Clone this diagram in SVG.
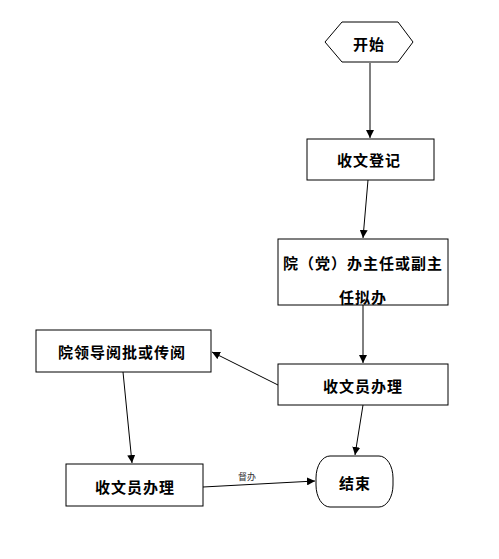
<svg xmlns="http://www.w3.org/2000/svg" width="499" height="559" viewBox="0 0 499 559">
<style>
.node{fill:#fff;stroke:#000;stroke-width:1}
.t{font-family:"Noto Sans CJK SC","Noto Sans",sans-serif;font-size:15px;font-weight:bold;fill:#000;text-anchor:middle;dominant-baseline:central;letter-spacing:1px}
.c{stroke:#000;stroke-width:1;fill:none;marker-end:url(#arr)}
.lbl{font-family:"Noto Sans CJK SC","Noto Sans",sans-serif;font-size:9px;fill:#333;text-anchor:middle}
</style>
<defs>
<marker id="arr" viewBox="0 0 10 10" refX="10" refY="5" markerWidth="8" markerHeight="8" markerUnits="userSpaceOnUse" orient="auto">
<path d="M0,0 L10,5 L0,10 z" fill="#000"/>
</marker>
</defs>
<rect width="499" height="559" fill="#fff"/>
<g id="connectors">
<line class="c" x1="370" y1="63" x2="370" y2="138"/>
<line class="c" x1="368" y1="180" x2="363" y2="238"/>
<line class="c" x1="363" y1="305" x2="363" y2="363"/>
<line class="c" x1="278" y1="385" x2="212" y2="352"/>
<line class="c" x1="123" y1="372" x2="132" y2="463"/>
<line class="c" x1="203" y1="487" x2="315" y2="481"/>
<line class="c" x1="363" y1="405" x2="355" y2="455"/>
<text class="lbl" x="247" y="480">督办</text>
</g>
<g id="start">
<polygon class="node" points="325,42 342,22 398,22 413,42 398,62 342,62"/>
<text class="t" x="369" y="43">开始</text>
</g>
<g id="register">
<rect class="node" x="307" y="139" width="127" height="41"/>
<text class="t" x="369" y="159">收文登记</text>
</g>
<g id="director">
<rect class="node" x="278" y="239" width="170" height="66"/>
<text class="t" x="363" y="262">院（党）办主任或副主</text>
<text class="t" x="363" y="296">任拟办</text>
</g>
<g id="leader">
<rect class="node" x="36" y="330" width="175" height="42"/>
<text class="t" x="122" y="351">院领导阅批或传阅</text>
</g>
<g id="clerk1">
<rect class="node" x="278" y="364" width="170" height="41"/>
<text class="t" x="363" y="385">收文员办理</text>
</g>
<g id="clerk2">
<rect class="node" x="66" y="464" width="137" height="42"/>
<text class="t" x="135" y="486">收文员办理</text>
</g>
<g id="end">
<rect class="node" x="316" y="456" width="77" height="51" rx="14" ry="22"/>
<text class="t" x="355" y="482">结束</text>
</g>
</svg>
